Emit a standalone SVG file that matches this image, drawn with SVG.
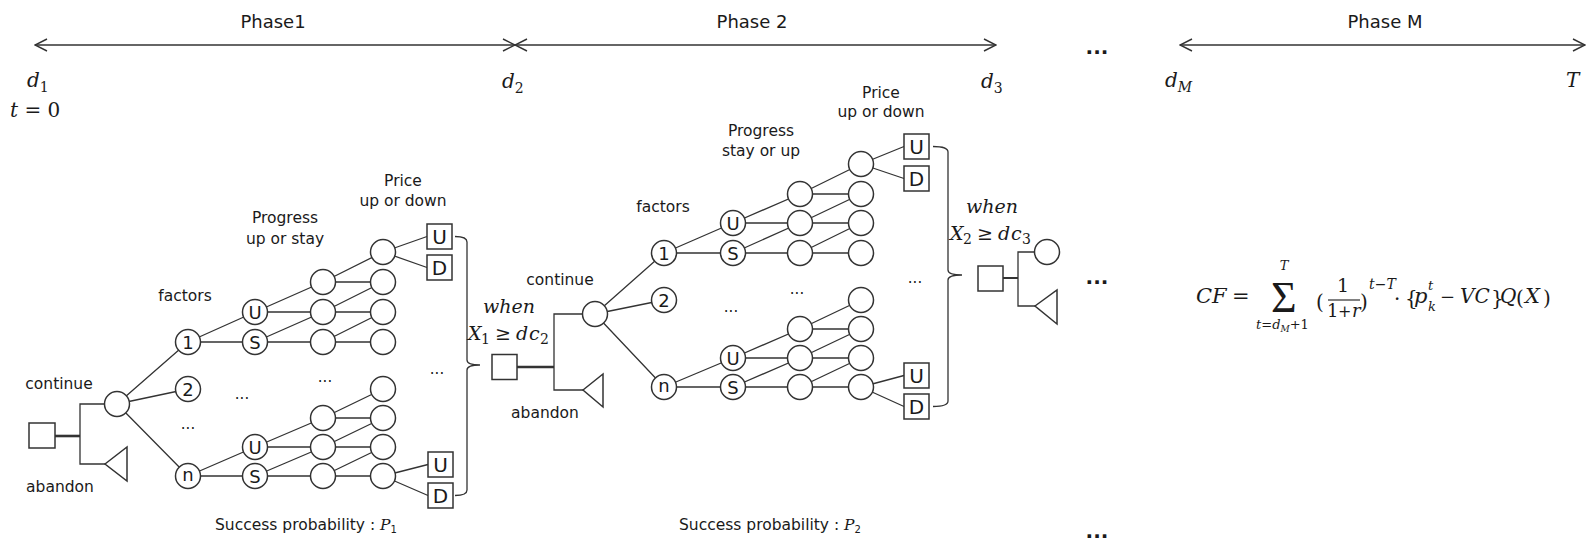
<svg xmlns="http://www.w3.org/2000/svg" width="1588" height="540" viewBox="0 0 1588 540">
<defs>
<style>
.ln{stroke:#333;stroke-width:1.3;fill:none}
.tk{stroke:#333;stroke-width:2.6;fill:none}
.ax{stroke:#333;stroke-width:1.4;fill:none}
.nd{fill:#fff;stroke:#333;stroke-width:1.5}
.t{font-family:"DejaVu Sans",sans-serif;font-size:15.5px;fill:#1a1a1a}
.c{text-anchor:middle}
.ph{font-family:"DejaVu Sans",sans-serif;font-size:18px;fill:#1a1a1a;text-anchor:middle}
.cl{font-family:"DejaVu Sans",sans-serif;font-size:18px;fill:#1a1a1a;text-anchor:middle}
.bl{font-family:"DejaVu Sans",sans-serif;font-size:20px;fill:#1a1a1a;text-anchor:middle}
.m{font-family:"DejaVu Serif",serif;font-style:italic;font-size:20px;fill:#1a1a1a}
.u{font-style:normal}
.sb{font-size:14px}
.dots{font-family:"DejaVu Sans",sans-serif;font-size:15px;fill:#1a1a1a;text-anchor:middle}
.bd{font-family:"DejaVu Sans",sans-serif;font-size:20px;font-weight:bold;fill:#1a1a1a;text-anchor:middle}
</style>
<marker id="chev" viewBox="0 0 14 14" refX="13" refY="7" markerWidth="14" markerHeight="14" markerUnits="userSpaceOnUse" orient="auto-start-reverse">
<path d="M1,1 L13,7 L1,13" fill="none" stroke="#333" stroke-width="1.4"/>
</marker>
</defs>
<rect width="1588" height="540" fill="#fff"/>

<g id="timeline">
<line class="ax" x1="35" y1="45" x2="515" y2="45" marker-start="url(#chev)" marker-end="url(#chev)"/>
<line class="ax" x1="515" y1="45" x2="996" y2="45" marker-start="url(#chev)" marker-end="url(#chev)"/>
<line class="ax" x1="1180" y1="45" x2="1585" y2="45" marker-start="url(#chev)" marker-end="url(#chev)"/>
<text class="ph" x="273" y="28">Phase1</text>
<text class="ph" x="752" y="28">Phase 2</text>
<text class="ph" x="1385" y="28">Phase M</text>
<text class="bd" x="1097" y="54">...</text>
<text class="m" x="27" y="87">d<tspan class="sb u" dy="5">1</tspan></text>
<text class="m" x="10" y="117">t<tspan class="u"> = 0</tspan></text>
<text class="m" x="502" y="88">d<tspan class="sb u" dy="5">2</tspan></text>
<text class="m" x="981" y="88">d<tspan class="sb u" dy="5">3</tspan></text>
<text class="m" x="1165" y="87">d<tspan class="sb" dy="5">M</tspan></text>
<text class="m" x="1566" y="87">T</text>
</g>

<g id="connectors">
<line class="tk" x1="55" y1="436" x2="80" y2="436"/>
<path class="ln" d="M117,404 H80 V464 H105"/>
<path class="ln" d="M117,404 L188,342 M117,404 L188,389 M117,404 L188,476
M188,342 L255,312 M188,342 L255,342 M188,476 L255,447 M188,476 L255,476
M255,312 L323,282 M255,312 L323,312 M255,342 L323,312 M255,342 L323,342
M323,282 L383,252 M323,282 L383,282 M323,312 L383,282 M323,312 L383,312 M323,342 L383,312 M323,342 L383,342
M255,447 L323,418 M255,447 L323,447 M255,476 L323,447 M255,476 L323,476
M323,418 L383,389 M323,418 L383,418 M323,447 L383,418 M323,447 L383,447 M323,476 L383,447 M323,476 L383,476
M383,252 L427,236.5 M383,252 L427,267.5
M383,476 L428,464.5 M383,476 L428,495.5"/>
<path class="ln" d="M455,236.5 Q467,236.5 467,242 V360 Q467,365 480,365 Q467,365 467,370 V490 Q467,495.5 455,495.5"/>
<line class="tk" x1="517" y1="367" x2="554" y2="367"/>
<path class="ln" d="M595,314 H554 V390 H583"/>
<path class="ln" d="M595,314 L664,253 M595,314 L664,300 M595,314 L664,387
M664,253 L733,223 M664,253 L733,253 M664,387 L733,358 M664,387 L733,387
M733,223 L800,194 M733,223 L800,223 M733,253 L800,223 M733,253 L800,253
M800,194 L861,164 M800,194 L861,194 M800,223 L861,194 M800,223 L861,223 M800,253 L861,223 M800,253 L861,253
M733,358 L800,329 M733,358 L800,358 M733,387 L800,358 M733,387 L800,387
M800,329 L861,300 M800,329 L861,329 M800,358 L861,329 M800,358 L861,358 M800,387 L861,358 M800,387 L861,387
M861,164 L904,146.5 M861,164 L904,178.5
M861,387 L904,375.5 M861,387 L904,406.5"/>
<path class="ln" d="M933,146.5 Q948,146.5 948,152 V270 Q948,275 962,275 Q948,275 948,280 V401 Q948,406.5 933,406.5"/>
<line class="ln" x1="1003" y1="278" x2="1018" y2="278" style="stroke-width:2"/>
<path class="ln" d="M1047,252 H1018 V306 H1035"/>
</g>

<g id="phase1-decision"><rect class="nd" x="29" y="423" width="26" height="25"/></g>
<g id="phase1-continue"><circle class="nd" cx="117" cy="404" r="12.5"/></g>
<g id="phase1-abandon"><polygon class="nd" points="105,464 127,447 127,481"/></g>
<g id="phase1-factor1"><circle class="nd" cx="188" cy="342" r="12.5"/><text class="cl" x="188" y="348.5">1</text></g>
<g id="phase1-factor2"><circle class="nd" cx="188" cy="389" r="12.5"/><text class="cl" x="188" y="395.5">2</text></g>
<g id="phase1-factorn"><circle class="nd" cx="188" cy="476" r="12.5"/><text class="cl" x="188" y="481">n</text></g>
<g id="phase1-u1"><circle class="nd" cx="255" cy="312" r="12.5"/><text class="cl" x="255" y="318.5">U</text></g>
<g id="phase1-s1"><circle class="nd" cx="255" cy="342" r="12.5"/><text class="cl" x="255" y="348.5">S</text></g>
<g id="phase1-un"><circle class="nd" cx="255" cy="447" r="12.5"/><text class="cl" x="255" y="453.5">U</text></g>
<g id="phase1-sn"><circle class="nd" cx="255" cy="476" r="12.5"/><text class="cl" x="255" y="482.5">S</text></g>
<g id="phase1-col3">
<circle class="nd" cx="323" cy="282" r="12.5"/><circle class="nd" cx="323" cy="312" r="12.5"/><circle class="nd" cx="323" cy="342" r="12.5"/>
<circle class="nd" cx="323" cy="418" r="12.5"/><circle class="nd" cx="323" cy="447" r="12.5"/><circle class="nd" cx="323" cy="476" r="12.5"/>
</g>
<g id="phase1-col4">
<circle class="nd" cx="383" cy="252" r="12.5"/><circle class="nd" cx="383" cy="282" r="12.5"/><circle class="nd" cx="383" cy="312" r="12.5"/><circle class="nd" cx="383" cy="342" r="12.5"/>
<circle class="nd" cx="383" cy="389" r="12.5"/><circle class="nd" cx="383" cy="418" r="12.5"/><circle class="nd" cx="383" cy="447" r="12.5"/><circle class="nd" cx="383" cy="476" r="12.5"/>
</g>
<g id="phase1-boxU1"><rect class="nd" x="427" y="224" width="25" height="25"/><text class="bl" x="439.5" y="244">U</text></g>
<g id="phase1-boxD1"><rect class="nd" x="427" y="255" width="25" height="25"/><text class="bl" x="439.5" y="275">D</text></g>
<g id="phase1-boxU2"><rect class="nd" x="428" y="452" width="25" height="25"/><text class="bl" x="440.5" y="472">U</text></g>
<g id="phase1-boxD2"><rect class="nd" x="428" y="483" width="25" height="25"/><text class="bl" x="440.5" y="503">D</text></g>

<g id="phase1-labels">
<text class="t c" x="59" y="389">continue</text>
<text class="t c" x="60" y="492">abandon</text>
<text class="t c" x="185" y="301">factors</text>
<text class="t c" x="285" y="223">Progress</text>
<text class="t c" x="285" y="244">up or stay</text>
<text class="t c" x="403" y="186">Price</text>
<text class="t c" x="403" y="206">up or down</text>
<text class="dots" x="188" y="429">...</text>
<text class="dots" x="242" y="399">...</text>
<text class="dots" x="325" y="382">...</text>
<text class="dots" x="437" y="374">...</text>
<text class="t" x="215" y="530">Success probability : <tspan style="font-family:'DejaVu Serif',serif;font-style:italic">P</tspan><tspan style="font-size:10px" dy="3">1</tspan></text>
</g>

<g id="phase2-condition">
<text class="m c" x="509" y="313" style="font-size:19px">when</text>
<text class="m" y="340" style="font-size:19px"><tspan x="468">X</tspan><tspan class="sb u" x="481" dy="4">1</tspan><tspan class="u" x="495" dy="-4">≥</tspan><tspan x="516">d</tspan><tspan x="529">c</tspan><tspan class="sb u" x="540" dy="4">2</tspan></text>
</g>
<g id="phase2-decision"><rect class="nd" x="492" y="354.5" width="25" height="25"/></g>
<g id="phase2-continue"><circle class="nd" cx="595" cy="314" r="12.5"/></g>
<g id="phase2-abandon"><polygon class="nd" points="583,390 603,374 603,407"/></g>
<g id="phase2-factor1"><circle class="nd" cx="664" cy="253" r="12.5"/><text class="cl" x="664" y="259.5">1</text></g>
<g id="phase2-factor2"><circle class="nd" cx="664" cy="300" r="12.5"/><text class="cl" x="664" y="306.5">2</text></g>
<g id="phase2-factorn"><circle class="nd" cx="664" cy="387" r="12.5"/><text class="cl" x="664" y="392">n</text></g>
<g id="phase2-u1"><circle class="nd" cx="733" cy="223" r="12.5"/><text class="cl" x="733" y="229.5">U</text></g>
<g id="phase2-s1"><circle class="nd" cx="733" cy="253" r="12.5"/><text class="cl" x="733" y="259.5">S</text></g>
<g id="phase2-un"><circle class="nd" cx="733" cy="358" r="12.5"/><text class="cl" x="733" y="364.5">U</text></g>
<g id="phase2-sn"><circle class="nd" cx="733" cy="387" r="12.5"/><text class="cl" x="733" y="393.5">S</text></g>
<g id="phase2-col3">
<circle class="nd" cx="800" cy="194" r="12.5"/><circle class="nd" cx="800" cy="223" r="12.5"/><circle class="nd" cx="800" cy="253" r="12.5"/>
<circle class="nd" cx="800" cy="329" r="12.5"/><circle class="nd" cx="800" cy="358" r="12.5"/><circle class="nd" cx="800" cy="387" r="12.5"/>
</g>
<g id="phase2-col4">
<circle class="nd" cx="861" cy="164" r="12.5"/><circle class="nd" cx="861" cy="194" r="12.5"/><circle class="nd" cx="861" cy="223" r="12.5"/><circle class="nd" cx="861" cy="253" r="12.5"/>
<circle class="nd" cx="861" cy="300" r="12.5"/><circle class="nd" cx="861" cy="329" r="12.5"/><circle class="nd" cx="861" cy="358" r="12.5"/><circle class="nd" cx="861" cy="387" r="12.5"/>
</g>
<g id="phase2-boxU1"><rect class="nd" x="904" y="134" width="25" height="25"/><text class="bl" x="916.5" y="154">U</text></g>
<g id="phase2-boxD1"><rect class="nd" x="904" y="166" width="25" height="25"/><text class="bl" x="916.5" y="186">D</text></g>
<g id="phase2-boxU2"><rect class="nd" x="904" y="363" width="25" height="25"/><text class="bl" x="916.5" y="383">U</text></g>
<g id="phase2-boxD2"><rect class="nd" x="904" y="394" width="25" height="25"/><text class="bl" x="916.5" y="414">D</text></g>

<g id="phase2-labels">
<text class="t c" x="560" y="285">continue</text>
<text class="t c" x="545" y="418">abandon</text>
<text class="t c" x="663" y="212">factors</text>
<text class="t c" x="761" y="136">Progress</text>
<text class="t c" x="761" y="156">stay or up</text>
<text class="t c" x="881" y="98">Price</text>
<text class="t c" x="881" y="117">up or down</text>
<text class="dots" x="731" y="312">...</text>
<text class="dots" x="797" y="294">...</text>
<text class="dots" x="915" y="283">...</text>
<text class="t" x="679" y="530">Success probability : <tspan style="font-family:'DejaVu Serif',serif;font-style:italic">P</tspan><tspan style="font-size:10px" dy="3">2</tspan></text>
</g>

<g id="phase3-condition">
<text class="m c" x="992" y="213" style="font-size:19px">when</text>
<text class="m" y="240" style="font-size:19px"><tspan x="950">X</tspan><tspan class="sb u" x="963" dy="4">2</tspan><tspan class="u" x="977" dy="-4">≥</tspan><tspan x="998">d</tspan><tspan x="1011">c</tspan><tspan class="sb u" x="1022" dy="4">3</tspan></text>
</g>
<g id="phase3-decision"><rect class="nd" x="978" y="266" width="25" height="25"/></g>
<g id="phase3-continue"><circle class="nd" cx="1047" cy="252" r="12.5"/></g>
<g id="phase3-abandon"><polygon class="nd" points="1035,306 1057,290 1057,324"/></g>

<text class="bd" x="1097" y="284">...</text>
<text class="bd" x="1097" y="538">...</text>

<g id="formula">
<text class="m" x="1196" y="303" style="font-size:21px">CF</text>
<text class="m u" x="1232" y="303" style="font-size:21px">=</text>
<text x="1271" y="312" style="font-family:'Liberation Serif',serif;font-size:44px;fill:#1a1a1a">Σ</text>
<text class="m" x="1284" y="270" style="font-size:13px;text-anchor:middle">T</text>
<text class="m" x="1256" y="329" style="font-size:13px">t<tspan class="u">=</tspan>d<tspan style="font-size:9px" dy="3">M</tspan><tspan class="u" dy="-3">+1</tspan></text>
<text class="m u" x="1316" y="309" style="font-size:20px">(</text>
<text class="m u" x="1343" y="292" style="font-size:19px;text-anchor:middle">1</text>
<line x1="1328" y1="300" x2="1360" y2="300" stroke="#1a1a1a" stroke-width="1.1"/>
<text class="m" y="317" style="font-size:18px"><tspan class="u" x="1327">1</tspan><tspan class="u" x="1338" style="font-size:16px">+</tspan><tspan x="1352">r</tspan></text>
<text class="m u" x="1360" y="309" style="font-size:20px">)</text>
<text class="m" x="1369" y="289" style="font-size:14px">t<tspan class="u">−</tspan>T</text>
<text class="m u" x="1394" y="306" style="font-size:20px">·</text>
<text class="m u" x="1405" y="305" style="font-size:20px">{</text>
<text class="m" x="1414" y="303" style="font-size:21px">p</text>
<text class="m" x="1428" y="290" style="font-size:13px">t</text>
<text class="m" x="1428" y="311" style="font-size:13px">k</text>
<text class="m u" x="1440" y="303" style="font-size:18px">−</text>
<text class="m" x="1460" y="303" style="font-size:20px">VC</text>
<text class="m u" x="1491" y="305" style="font-size:20px">}</text>
<text class="m" x="1500" y="303" style="font-size:20px">Q</text>
<text class="m u" x="1516" y="305" style="font-size:20px">(</text>
<text class="m" x="1525" y="303" style="font-size:21px">X</text>
<text class="m u" x="1543" y="305" style="font-size:20px">)</text>
</g>
</svg>
